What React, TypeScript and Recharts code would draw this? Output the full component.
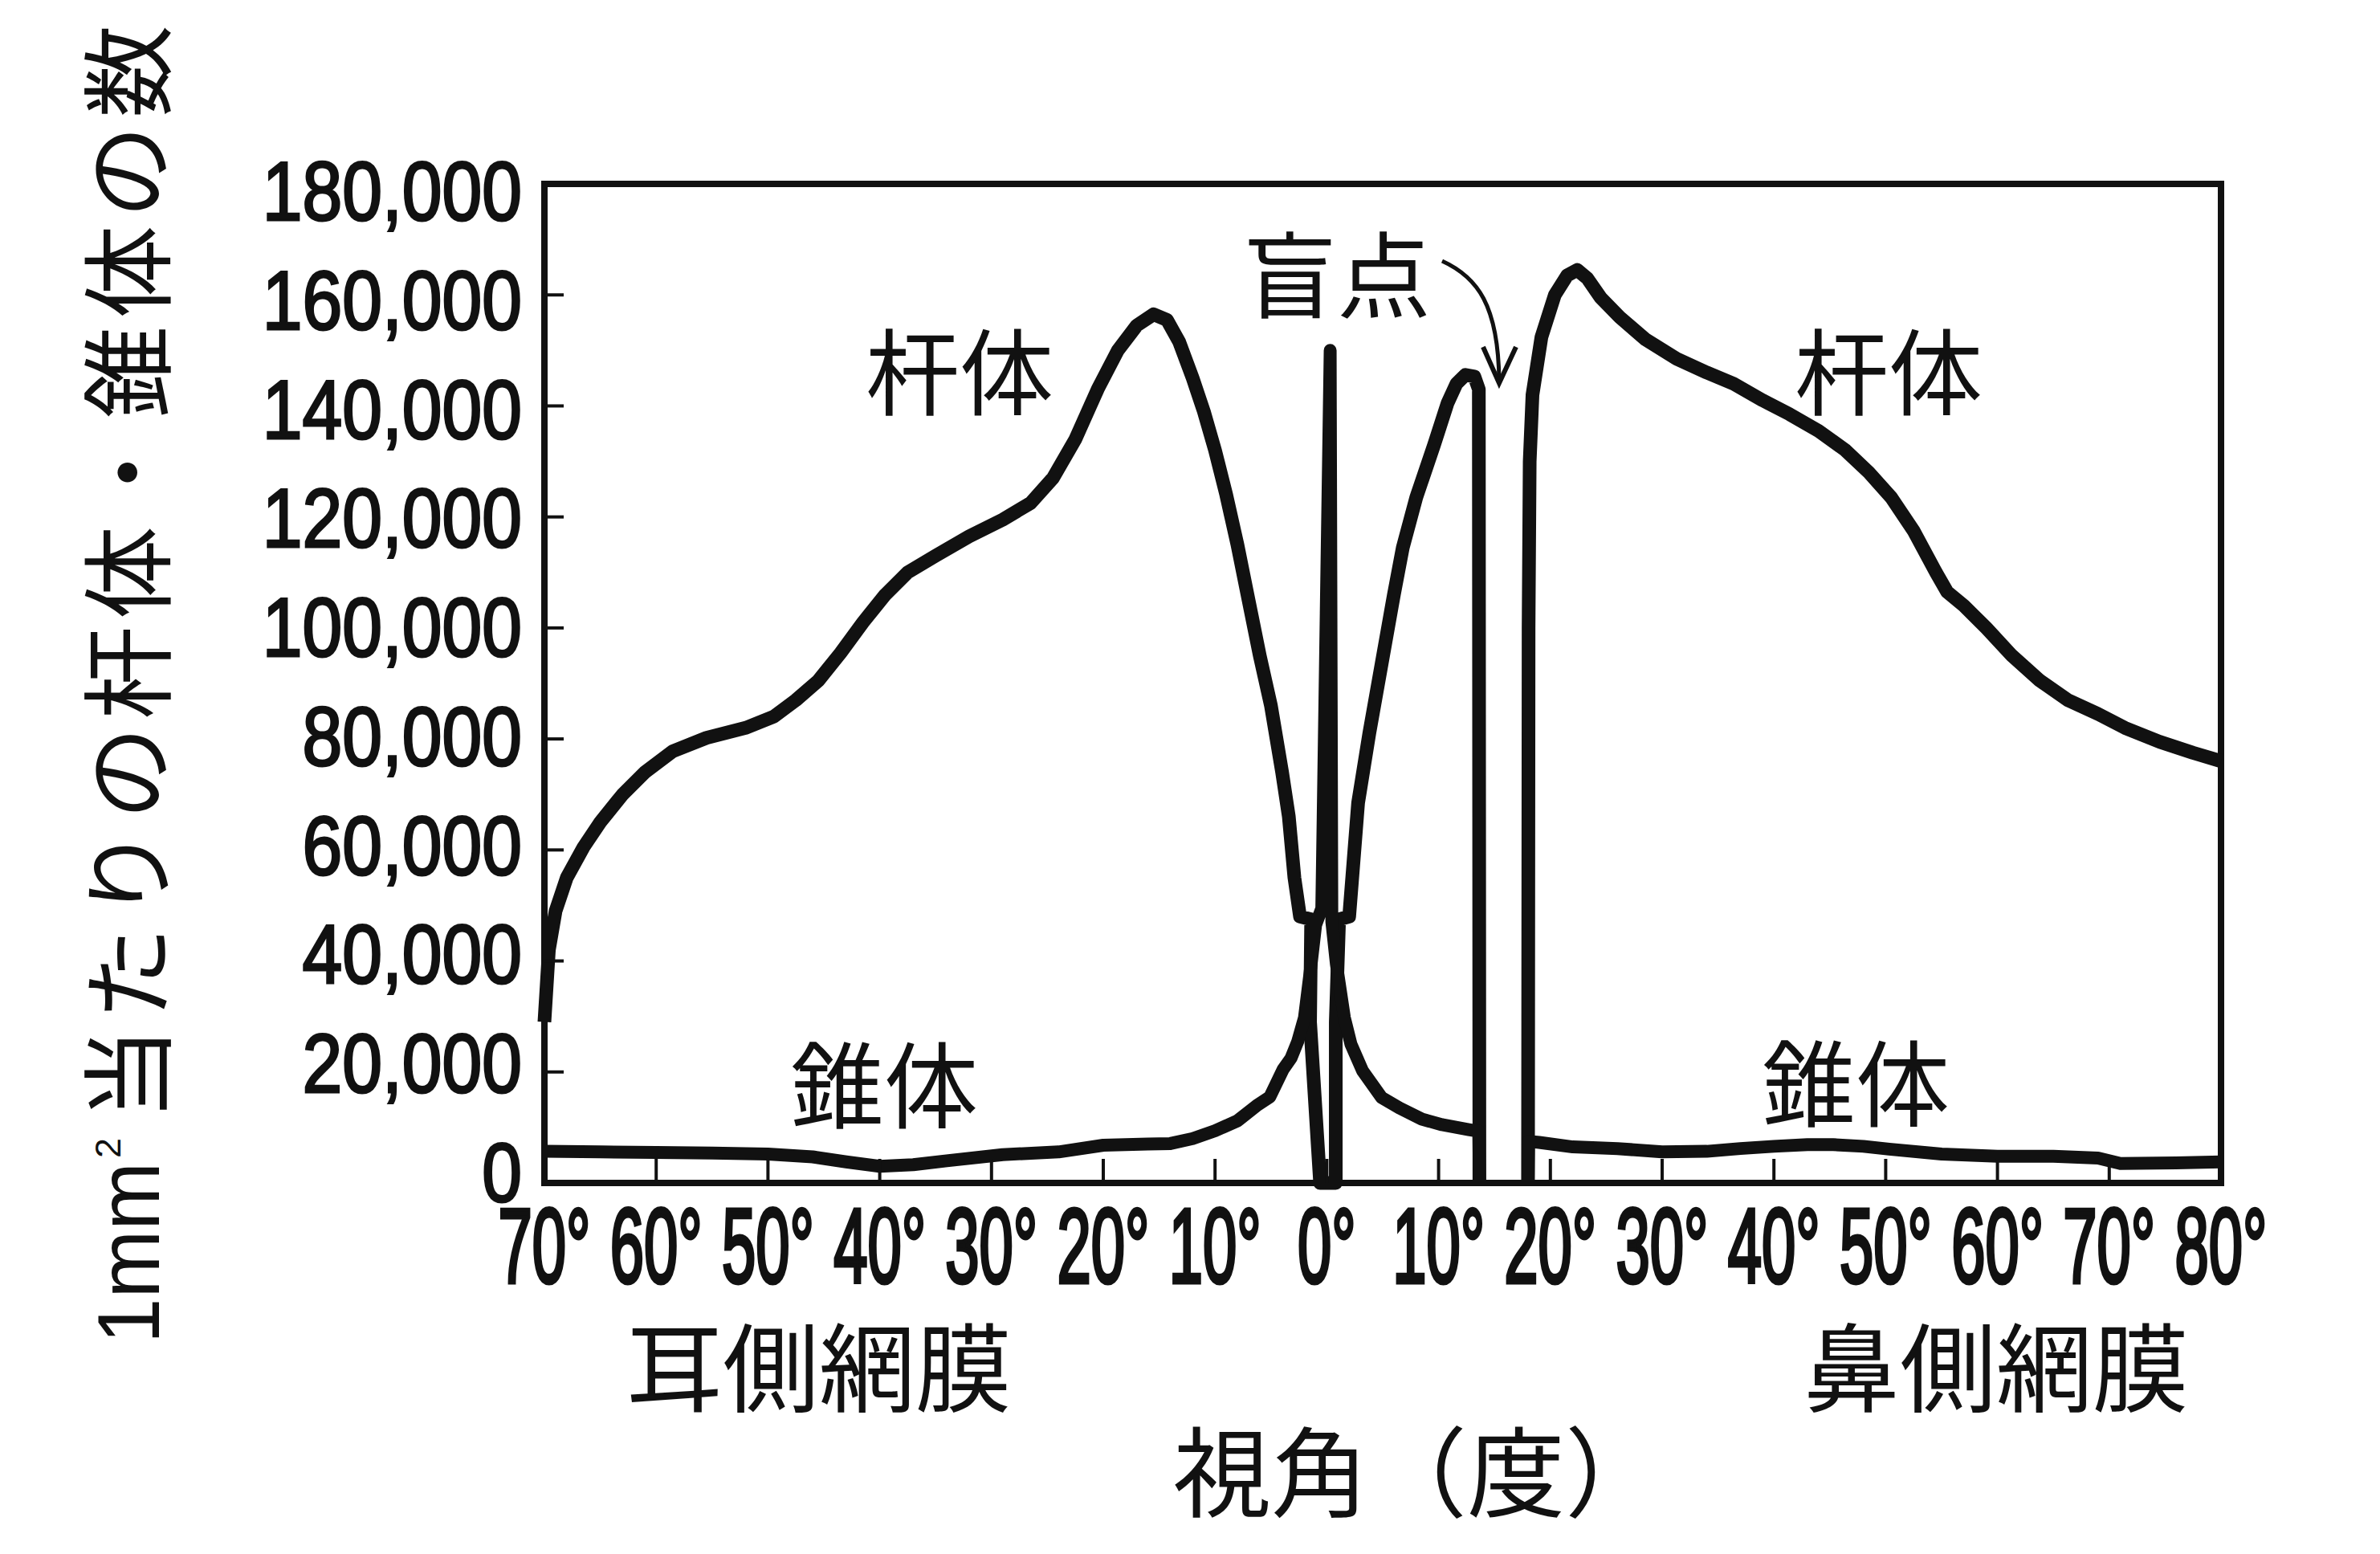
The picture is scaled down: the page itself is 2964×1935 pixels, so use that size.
import React from "react";
import { Line, LineChart, ReferenceLine, XAxis, YAxis } from "recharts";

// visual angle (deg): temporal side negative, nasal side positive
const X_TICKS = [-70, -60, -50, -40, -30, -20, -10, 0, 10, 20, 30, 40, 50, 60, 70, 80];
const Y_TICKS = [0, 20000, 40000, 60000, 80000, 100000, 120000, 140000, 160000, 180000];

// rods (杆体)
const ROD_DEG = [
    -70, -69.6, -69, -68, -66.5, -65, -63, -61, -58.5, -55.5, -52, -49.5, -47.5, -45.5, -43.5, -41.5,
    -39.5, -37.5, -35, -32, -29, -26.5, -24.5, -22.5, -20.5, -18.7, -17, -15.5, -14.3, -13.2, -12, -11,
    -10, -9, -8, -7, -6, -5, -4, -3.4, -2.9, -2.4, -1.4, -1.5, -0.6, 0.8, 0.8, 1.1, 2.0, 2.8, 3.8, 4.9,
    6.0, 6.8, 8.0, 9.6, 10.8, 11.6, 12.4, 13.2, 13.6, 13.65, 15.9, 18.0, 18.05, 18.15, 18.4, 19.2, 20.4,
    21.5, 22.4, 23.3, 24.5, 26.2, 28.5, 31.3, 34, 36.4, 39, 41.4, 44, 46.4, 48.5, 50.5, 52.5, 54.5, 55.5,
    57, 59, 61.3, 63.8, 66.3, 69, 71.4, 74.5, 77.5, 80,
];
const ROD_COUNT = [
    29000, 42000, 49000, 55000, 60500, 65000, 70000, 74000, 77800, 80200, 82000, 84000, 87000, 90500,
    95500, 101000, 106000, 110000, 113000, 116500, 119500, 122500, 127000, 134000, 143000, 150000,
    154500, 156500, 155500, 151500, 145000, 139000, 132000, 124000, 115000, 105000, 95000, 86000, 74000,
    66000, 55000, 48000, 47500, 29000, 0, 0, 29000, 47500, 48000, 68500, 81000, 93500, 106000, 114500,
    123500, 133000, 140500, 144000, 145600, 145300, 143000, 0, null, 0, 100000, 130000, 142000, 152400,
    160000, 163500, 164500, 163000, 159500, 156000, 152000, 148500, 146000, 144000, 141000, 138500,
    135500, 132000, 128000, 123500, 117500, 110000, 106500, 104000, 100000, 95000, 90500, 87000, 84500,
    82000, 79500, 77500, 76000,
];

// cones (錐体)
const CONE_DEG = [
    -70, -65, -60, -55, -50, -46, -43, -40, -37, -34, -29, -24, -20, -16, -14, -12, -10, -8, -6.3, -5.1,
    -3.9, -3.2, -2.6, -2, -1.4, -1, -0.45, 0.3, 0.45, 0.85, 1.57, 2.16, 3.2, 4.9, 6.5, 8.5, 10.3, 12.7,
    13.6, 13.65, 15.9, 18, 18.05, 19, 22, 26, 30, 34, 37, 40, 43, 45.3, 48, 50.3, 55, 60, 65, 69, 71, 76, 80,
];
const CONE_COUNT = [
    5700, 5600, 5500, 5400, 5200, 4700, 3800, 3000, 3300, 4000, 5100, 5600, 6800, 7000, 7100, 8000, 9400,
    11200, 13900, 15500, 20500, 22500, 25500, 29800, 39500, 46500, 49500, 150000, 47000, 39500, 29800,
    25000, 20200, 15400, 13500, 11500, 10500, 9600, 9300, 0, null, 0, 7500, 7300, 6500, 6200, 5600, 5700,
    6200, 6600, 6900, 6900, 6600, 6100, 5200, 4800, 4800, 4500, 3500, 3600, 3800,
];

const rodData = ROD_DEG.map((x, i) => ({ x, v: ROD_COUNT[i] }));
const coneData = CONE_DEG.map((x, i) => ({ x, v: CONE_COUNT[i] }));

const INK = "#111";
const LATIN = "'Liberation Sans', Arial, sans-serif";
const CJK = "'Noto Sans CJK JP', sans-serif";

function BottomTick(props: any) {
    const { x, y, payload } = props;
    return (
        <g>
            <line x1={x} x2={x} y1={y} y2={y - 30} stroke={INK} strokeWidth={4} />
            <text
                transform={`translate(${x},${y + 124}) scale(0.58,1)`}
                textAnchor="middle"
                fontFamily={LATIN}
                fontSize={131}
                fill={INK}
                stroke={INK}
                strokeWidth={5}
            >
                {`${Math.abs(payload.value)}°`}
            </text>
        </g>
    );
}

function TopTick(props: any) {
    const { x, y } = props;
    return <line x1={x} x2={x} y1={y} y2={y + 34} stroke={INK} strokeWidth={4} />;
}

function LeftTick(props: any) {
    const { x, y, payload } = props;
    // labels sit a little wider apart than the ticks in the original
    const shift = -14 + 22 * (payload.value / 180000);
    return (
        <g>
            <line x1={x} x2={x + 24} y1={y} y2={y} stroke={INK} strokeWidth={4} />
            <text
                transform={`translate(${x - 28},${y + 37 + shift}) scale(0.86,1)`}
                textAnchor="end"
                fontFamily={LATIN}
                fontSize={104}
                fill={INK}
                stroke={INK}
                strokeWidth={3}
            >
                {payload.value.toLocaleString("en-US")}
            </text>
        </g>
    );
}

const frame = { stroke: INK, strokeWidth: 8, strokeLinecap: "square" as const };

function Label({ x, y, size = 117, children }: { x: number; y: number; size?: number; children: string }) {
    return (
        <text x={x} y={y} textAnchor="middle" dominantBaseline="central" fontFamily={CJK} fontSize={size} fill={INK}>
            {children}
        </text>
    );
}

export default function App() {
    return (
        <div style={{ position: "absolute", left: 0, top: 0, width: 2964, height: 1935, background: "#fff" }}>
            <LineChart width={2964} height={1935} margin={{ top: 209, right: 198, bottom: 262, left: 258 }}>
                <XAxis
                    xAxisId="top"
                    orientation="top"
                    type="number"
                    dataKey="x"
                    domain={[-70, 80]}
                    ticks={X_TICKS}
                    interval={0}
                    height={20}
                    tickSize={0}
                    tickMargin={0}
                    tickLine={false}
                    tick={(p: any) => <TopTick {...p} />}
                    axisLine={frame}
                />
                <XAxis
                    type="number"
                    dataKey="x"
                    domain={[-70, 80]}
                    ticks={X_TICKS}
                    interval={0}
                    height={200}
                    tickSize={0}
                    tickMargin={0}
                    tickLine={false}
                    tick={(p: any) => <BottomTick {...p} />}
                    axisLine={frame}
                />
                <YAxis
                    type="number"
                    domain={[0, 180000]}
                    ticks={Y_TICKS}
                    interval={0}
                    width={420}
                    tickSize={0}
                    tickMargin={0}
                    tickLine={false}
                    tick={(p: any) => <LeftTick {...p} />}
                    axisLine={frame}
                />
                <ReferenceLine x={80} stroke={INK} strokeWidth={8} />
                <Line
                    data={rodData}
                    dataKey="v"
                    type="linear"
                    stroke={INK}
                    strokeWidth={17}
                    strokeLinejoin="round"
                    dot={false}
                    activeDot={false}
                    isAnimationActive={false}
                />
                <Line
                    data={coneData}
                    dataKey="v"
                    type="linear"
                    stroke={INK}
                    strokeWidth={16}
                    strokeLinejoin="round"
                    dot={false}
                    activeDot={false}
                    isAnimationActive={false}
                />
            </LineChart>

            <svg
                width={2964}
                height={1935}
                style={{ position: "absolute", left: 0, top: 0, pointerEvents: "none" }}
            >
                {/* y axis title */}
                <text
                    transform="translate(198,1673) rotate(-90)"
                    fontFamily={LATIN}
                    fontSize={109}
                    fill={INK}
                    textLength={226}
                    lengthAdjust="spacingAndGlyphs"
                >
                    1mm
                </text>
                <text transform="translate(150,1442) rotate(-90)" fontFamily={LATIN} fontSize={45} fill={INK}>
                    2
                </text>
                <text
                    transform="translate(203,1395) rotate(-90)"
                    fontFamily={CJK}
                    fontSize={116}
                    fill={INK}
                    textLength={1364}
                    lengthAdjust="spacing"
                >
                    当たりの杆体・錐体の数
                </text>

                <Label x={1195} y={457}>杆体</Label>
                <Label x={2352} y={457}>杆体</Label>
                <Label x={1665} y={336}>盲点</Label>
                <Label x={1101} y={1345}>錐体</Label>
                <Label x={2311} y={1343}>錐体</Label>
                <Label x={1020} y={1697} size={120}>耳側網膜</Label>
                <Label x={2486} y={1697} size={120}>鼻側網膜</Label>
                <Label x={1766} y={1825} size={122}>視角（度）</Label>

                {/* arrow to the blind spot */}
                <path d="M1796,325 C1840,345 1866,380 1867,474" fill="none" stroke={INK} strokeWidth={5} />
                <path d="M1847,432 L1867,477 L1888,432" fill="none" stroke={INK} strokeWidth={6} />
            </svg>
        </div>
    );
}
